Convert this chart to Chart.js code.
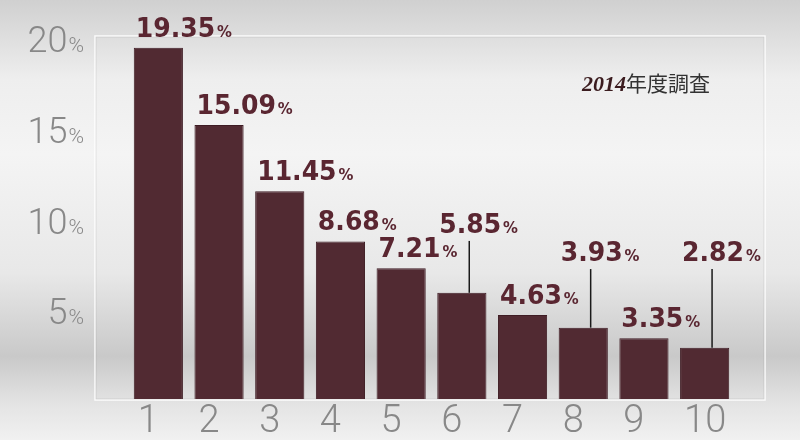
<!DOCTYPE html>
<html>
<head>
<meta charset="utf-8">
<script src="https://cdn.jsdelivr.net/npm/chart.js@4.4.1/dist/chart.umd.min.js"></script>
<style>
  html, body { margin: 0; padding: 0; }
  body {
    width: 800px; height: 440px; overflow: hidden;
    background: linear-gradient(to bottom, #d0d0d0 0%, #eeeeee 18%, #f4f4f4 35%, #e8e8e8 62%, #c9c9c9 81%, #e4e4e4 92%, #f1f1f1 100%);
  }
  canvas { display: block; }
</style>
</head>
<body>
<canvas id="chart" width="800" height="440"></canvas>
<script>
// Data
const ranks = ["1", "2", "3", "4", "5", "6", "7", "8", "9", "10"];
const shares = [19.35, 15.09, 11.45, 8.68, 7.21, 5.85, 4.63, 3.93, 3.35, 2.82];
const yTicks = [5, 10, 15, 20];
const surveyYear = "2014";
const surveyText = "年度調査";

const barColor = "#512a32";
const labelColor = "#5a2631";
const tickColor = "#888888";

// labels that sit higher with a leader line (index -> value level of label baseline)
const raised = { 5: 9.15, 7: 7.6, 9: 7.6 };

// ----------------------------
// DRAWING PLUGIN
// ----------------------------
const decorations = {
    id: "decorations",
    beforeDraw(chart) {
        const c = chart.ctx;
        const a = chart.chartArea;
        // frame
        c.save();
        c.strokeStyle = "rgba(255,255,255,0.9)";
        c.lineWidth = 1.5;
        c.strokeRect(a.left - 33, a.top, (a.right + 30) - (a.left - 33), a.bottom + 1 - a.top);
        c.strokeStyle = "rgba(0,0,0,0.08)";
        c.lineWidth = 1;
        c.strokeRect(a.left - 32, a.top + 1, (a.right + 29) - (a.left - 32), a.bottom - a.top - 1);
        c.restore();
    },
    afterDraw(chart) {
        const c = chart.ctx;
        const y = chart.scales.y;
        const meta = chart.getDatasetMeta(0);
        c.save();

        // y tick labels
        yTicks.forEach(t => {
            const base = y.getPixelForValue(t) + 16;
            c.textBaseline = "alphabetic";
            c.fillStyle = tickColor;
            c.font = "300 21px Roboto, 'DejaVu Sans'";
            c.textAlign = "right";
            const pw = c.measureText("%").width;
            c.fillText("%", 84, base);
            c.font = "300 36px Roboto, 'DejaVu Sans'";
            c.fillText(String(t), 83 - pw, base);
        });

        // x tick labels
        c.font = "300 38px Roboto, 'DejaVu Sans'";
        c.fillStyle = tickColor;
        c.textAlign = "left";
        c.textBaseline = "alphabetic";
        meta.data.forEach((bar, i) => {
            const left = bar.x - bar.width / 2;
            c.fillText(ranks[i], left + 4, 432);
        });

        // value labels
        meta.data.forEach((bar, i) => {
            const left = bar.x - bar.width / 2;
            let base = bar.y - 11;
            if (raised[i] !== undefined) {
                base = y.getPixelForValue(raised[i]);
                c.strokeStyle = "#1a1a1a";
                c.lineWidth = 1.5;
                c.beginPath();
                c.moveTo(left + 32, base + 8);
                c.lineTo(left + 32, bar.y);
                c.stroke();
            }
            const num = shares[i].toFixed(2);
            c.textAlign = "left";
            c.textBaseline = "alphabetic";
            c.fillStyle = labelColor;
            c.save();
            c.translate(left + 2, base);
            c.scale(0.93, 1);
            c.font = "bold 27px 'DejaVu Sans'";
            c.fillText(num, 0, 0);
            const nw = c.measureText(num).width;
            c.font = "bold 16px 'DejaVu Sans'";
            c.fillText("%", nw + 2, 0);
            c.restore();
        });

        // survey note
        c.textAlign = "left";
        c.textBaseline = "alphabetic";
        c.fillStyle = "#3b1c1f";
        c.font = "italic bold 22px 'Liberation Serif', 'DejaVu Serif'";
        c.fillText(surveyYear, 582, 91);
        const yw = c.measureText(surveyYear).width;
        c.fillStyle = "#333";
        c.font = "21px 'Noto Sans CJK JP'";
        c.fillText(surveyText, 582 + yw, 91);

        c.restore();
    }
};

// ----------------------------
// CHART
// ----------------------------
const ctx = document.getElementById("chart").getContext("2d");

new Chart(ctx, {
    type: "bar",
    data: {
        labels: ranks,
        datasets: [{
            data: shares,
            backgroundColor: barColor,
            borderColor: "#3e1c24",
            borderWidth: 1,
            barPercentage: 0.81,
            categoryPercentage: 1
        }]
    },
    options: {
        responsive: false,
        animation: false,
        layout: { padding: { left: 128, right: 65, top: 36, bottom: 41 } },
        plugins: {
            legend: { display: false },
            tooltip: { enabled: false }
        },
        scales: {
            x: { display: false },
            y: { display: false, min: 0, max: 20 }
        }
    },
    plugins: [decorations]
});
</script>
</body>
</html>
